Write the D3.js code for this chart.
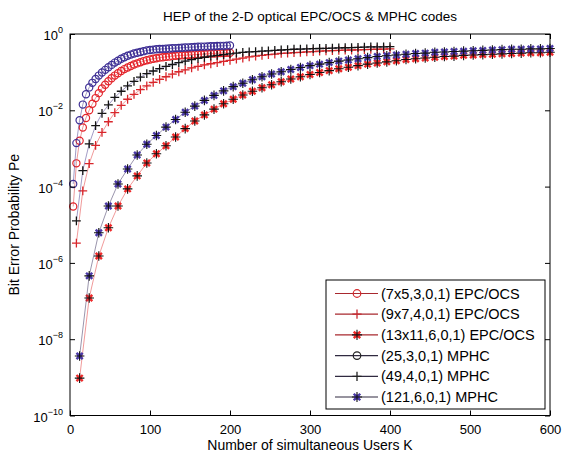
<!DOCTYPE html>
<html><head><meta charset="utf-8">
<script src="https://cdn.jsdelivr.net/npm/d3@7"></script>
<style>
html,body{margin:0;padding:0;background:#fff;}
text{font-family:"Liberation Sans",Arial,sans-serif;fill:#000;}
</style></head>
<body><svg id="c" width="574" height="454"></svg>
<script>
// ---- data (values stored as log10(Pe)) ----
const K4  = [4,8,12,16,20,24,28,32,36,40,44,48,52,56,60,64,68,72,76,80,84,88,92,96,100,104,108,112,116,120,124,128,132,136,140,144,148,152,156,160,164,168,172,176,180,184,188,192,196,200];
const K8  = [8,16,24,32,40,48,56,64,72,80,88,96,104,112,120,128,136,144,152,160,168,176,184,192,200,208,216,224,232,240,248,256,264,272,280,288,296,304,312,320,328,336,344,352,360,368,376,384,392,400];
const K12 = [12,24,36,48,60,72,84,96,108,120,132,144,156,168,180,192,204,216,228,240,252,264,276,288,300,312,324,336,348,360,372,384,396,408,420,432,444,456,468,480,492,504,516,528,540,552,564,576,588,600];

const epc7x5 = [-4.52,-3.39,-2.80,-2.45,-2.20,-2.00,-1.83,-1.68,-1.55,-1.43,-1.33,-1.24,-1.16,-1.09,-1.03,-0.97,-0.92,-0.88,-0.84,-0.80,-0.77,-0.74,-0.71,-0.69,-0.67,-0.65,-0.635,-0.62,-0.61,-0.60,-0.59,-0.58,-0.57,-0.565,-0.56,-0.555,-0.55,-0.545,-0.54,-0.535,-0.53,-0.525,-0.52,-0.515,-0.51,-0.505,-0.50,-0.50,-0.495,-0.49];
const epc9x7 = [-5.48,-4.11,-3.40,-2.92,-2.58,-2.30,-2.06,-1.87,-1.71,-1.58,-1.46,-1.36,-1.27,-1.19,-1.12,-1.05,-0.99,-0.94,-0.89,-0.85,-0.81,-0.78,-0.75,-0.72,-0.69,-0.66,-0.63,-0.60,-0.58,-0.56,-0.54,-0.53,-0.51,-0.50,-0.49,-0.48,-0.47,-0.46,-0.45,-0.44,-0.435,-0.43,-0.425,-0.42,-0.415,-0.41,-0.405,-0.40,-0.395,-0.39];
const epc13x11 = [-9.02,-6.92,-5.82,-5.08,-4.51,-4.06,-3.72,-3.38,-3.14,-2.93,-2.70,-2.48,-2.28,-2.12,-1.97,-1.83,-1.71,-1.60,-1.50,-1.41,-1.33,-1.25,-1.18,-1.12,-1.06,-1.01,-0.96,-0.91,-0.87,-0.83,-0.79,-0.76,-0.73,-0.70,-0.67,-0.65,-0.63,-0.61,-0.59,-0.58,-0.56,-0.55,-0.54,-0.53,-0.52,-0.51,-0.50,-0.49,-0.49,-0.48];
const mphc25 = [-3.93,-2.86,-2.26,-1.85,-1.58,-1.40,-1.28,-1.18,-1.09,-1.01,-0.94,-0.87,-0.81,-0.75,-0.70,-0.65,-0.61,-0.57,-0.54,-0.51,-0.49,-0.47,-0.45,-0.43,-0.42,-0.41,-0.40,-0.395,-0.39,-0.385,-0.38,-0.375,-0.37,-0.365,-0.36,-0.355,-0.35,-0.345,-0.34,-0.335,-0.33,-0.33,-0.325,-0.32,-0.32,-0.315,-0.31,-0.31,-0.305,-0.30];
const mphc49 = [-4.90,-3.58,-2.88,-2.40,-2.08,-1.86,-1.66,-1.50,-1.36,-1.24,-1.13,-1.04,-0.97,-0.91,-0.85,-0.80,-0.75,-0.71,-0.67,-0.64,-0.61,-0.58,-0.56,-0.54,-0.52,-0.50,-0.48,-0.47,-0.46,-0.45,-0.44,-0.43,-0.42,-0.41,-0.40,-0.395,-0.39,-0.385,-0.38,-0.375,-0.37,-0.365,-0.36,-0.355,-0.35,-0.345,-0.34,-0.34,-0.335,-0.33];
const mphc121 = [-8.44,-6.34,-5.21,-4.51,-3.93,-3.54,-3.17,-2.89,-2.66,-2.44,-2.24,-2.05,-1.89,-1.74,-1.61,-1.49,-1.38,-1.29,-1.20,-1.12,-1.05,-0.99,-0.93,-0.88,-0.83,-0.79,-0.75,-0.71,-0.68,-0.65,-0.62,-0.59,-0.57,-0.55,-0.53,-0.51,-0.50,-0.48,-0.47,-0.46,-0.45,-0.44,-0.43,-0.42,-0.41,-0.40,-0.40,-0.39,-0.39,-0.38];

const seriesNames = ["(7x5,3,0,1) EPC/OCS","(9x7,4,0,1) EPC/OCS","(13x11,6,0,1) EPC/OCS","(25,3,0,1) MPHC","(49,4,0,1) MPHC","(121,6,0,1) MPHC"];
const xTicks = [0,100,200,300,400,500,600];
const yTickExps = [0,-2,-4,-6,-8,-10];

const title = "HEP of the 2-D optical EPC/OCS & MPHC codes";
const xLabel = "Number of simultaneous Users K";
const yLabel = "Bit Error Probability Pe";

// ---- styles ----
const series = [
  {name:seriesNames[0], k:K4,  v:epc7x5,  marker:"circle", color:"#e3242b", line:"#d42a2e", legColor:"#d42a2e", legLine:"#a8282e"},
  {name:seriesNames[1], k:K8,  v:epc9x7,  marker:"cross",  color:"#d8262b", line:"#e02a2a", legColor:"#c62a30", legLine:"#a8282e"},
  {name:seriesNames[2], k:K12, v:epc13x11,marker:"star",   color:"#ee2a2a", line:"#e02a2a", legColor:"#ee2a2a", legLine:"#a8282e"},
  {name:seriesNames[3], k:K4,  v:mphc25,  marker:"circle", color:"#3d2e94", line:"#3a2c86", legColor:"#222", legLine:"#302a40"},
  {name:seriesNames[4], k:K8,  v:mphc49,  marker:"cross",  color:"#141414", line:"#3a2c86", legColor:"#222", legLine:"#302a40"},
  {name:seriesNames[5], k:K12, v:mphc121, marker:"star",   color:"#4a38a6", line:"#2a2050", legColor:"#4a38a6", legLine:"#302a40"}
];

const svg = d3.select("#c");
const L = 70, R = 550, T = 34, B = 415.5;
const x = d3.scaleLinear().domain([0,600]).range([L,R]);
const y = d3.scaleLog().domain([1e-10,1]).range([B,T]);

svg.append("rect").attr("width",574).attr("height",454).attr("fill","#fff");

svg.append("clipPath").attr("id","clip").append("rect")
  .attr("x",L-6).attr("y",T-6).attr("width",R-L+12).attr("height",B-T+12);

function drawMarker(g, type, color, cx, cy, scale){
  const s = scale||1;
  if(type==="circle"){
    g.append("circle").attr("cx",cx).attr("cy",cy).attr("r",3.6*s)
      .attr("fill","none").attr("stroke",color).attr("stroke-width",1.2);
  } else if(type==="cross"){
    const a=4.4*s;
    g.append("path").attr("d",`M${cx-a},${cy}H${cx+a}M${cx},${cy-a}V${cy+a}`)
      .attr("stroke",color).attr("stroke-width",1.3).attr("fill","none");
  } else {
    const d=3.1*s, a=4.8*s;
    g.append("path").attr("d",`M${cx-d},${cy-d}L${cx+d},${cy+d}M${cx-d},${cy+d}L${cx+d},${cy-d}`)
      .attr("stroke",color).attr("stroke-width",2.4).attr("fill","none");
    g.append("circle").attr("cx",cx).attr("cy",cy).attr("r",2.5*s).attr("fill",color);
    g.append("path").attr("d",`M${cx-a},${cy}H${cx+a}M${cx},${cy-a}V${cy+a}`)
      .attr("stroke","#111").attr("stroke-width",1.1).attr("fill","none");
  }
}

const plot = svg.append("g").attr("clip-path","url(#clip)");
const lineGen = d3.line().x(d=>x(d[0])).y(d=>y(Math.pow(10,d[1])));
series.forEach(s=>{
  const pts = s.k.map((k,i)=>[k,s.v[i]]);
  plot.append("path").attr("d",lineGen(pts)).attr("fill","none")
    .attr("stroke",s.line).attr("stroke-width",0.6).attr("stroke-opacity",0.8);
  const mg = plot.append("g");
  pts.forEach(p=>drawMarker(mg, s.marker, s.color, x(p[0]), y(Math.pow(10,p[1]))));
});

svg.append("rect").attr("x",L).attr("y",T).attr("width",R-L).attr("height",B-T)
  .attr("fill","none").attr("stroke","#000").attr("stroke-width",1);

const yTicks = yTickExps.map(e=>Math.pow(10,e));
function styleAxis(g){ g.select(".domain").remove(); g.selectAll("line").attr("stroke","#000"); }
svg.append("g").attr("transform",`translate(0,${B})`)
  .call(d3.axisBottom(x).tickValues(xTicks).tickSizeInner(-5).tickSizeOuter(0).tickPadding(9))
  .call(styleAxis)
  .call(g=>g.selectAll("text").attr("font-size",13).attr("font-family","Liberation Sans, Arial, sans-serif").attr("fill","#000"));
svg.append("g").attr("transform",`translate(0,${T})`)
  .call(d3.axisTop(x).tickValues(xTicks).tickSizeInner(-5).tickSizeOuter(0).tickFormat(""))
  .call(styleAxis);
svg.append("g").attr("transform",`translate(${L},0)`)
  .call(d3.axisLeft(y).tickValues(yTicks).tickSizeInner(-5).tickSizeOuter(0).tickFormat(""))
  .call(styleAxis);
svg.append("g").attr("transform",`translate(${R},0)`)
  .call(d3.axisRight(y).tickValues(yTicks).tickSizeInner(-5).tickSizeOuter(0).tickFormat(""))
  .call(styleAxis);

yTickExps.forEach(e=>{
  const t = svg.append("text").attr("x",L-7).attr("y",y(Math.pow(10,e))+6)
    .attr("text-anchor","end").attr("font-size",13);
  t.append("tspan").text("10");
  t.append("tspan").attr("dy",-7).attr("font-size",9).text(e===0?"0":"\u2212"+(-e));
});

svg.append("text").attr("x",(L+R)/2).attr("y",21).attr("text-anchor","middle")
  .attr("font-size",13.5).text(title);
svg.append("text").attr("x",(L+R)/2).attr("y",450).attr("text-anchor","middle")
  .attr("font-size",14).text(xLabel);
svg.append("text").attr("transform",`translate(19,${(T+B)/2}) rotate(-90)`)
  .attr("text-anchor","middle").attr("font-size",14).text(yLabel);

const lg = svg.append("g");
lg.append("rect").attr("x",326).attr("y",280).attr("width",219).attr("height",129)
  .attr("fill","#fff").attr("stroke","#000").attr("stroke-width",1);
series.forEach((s,i)=>{
  const cy = 293.5 + i*20.7;
  lg.append("line").attr("x1",335).attr("x2",378).attr("y1",cy).attr("y2",cy)
    .attr("stroke",s.legLine).attr("stroke-width",1.2);
  drawMarker(lg, s.marker, s.legColor, 357, cy, 1.05);
  lg.append("text").attr("x",381).attr("y",cy+5).attr("font-size",14.5).text(s.name);
});
</script></body></html>
